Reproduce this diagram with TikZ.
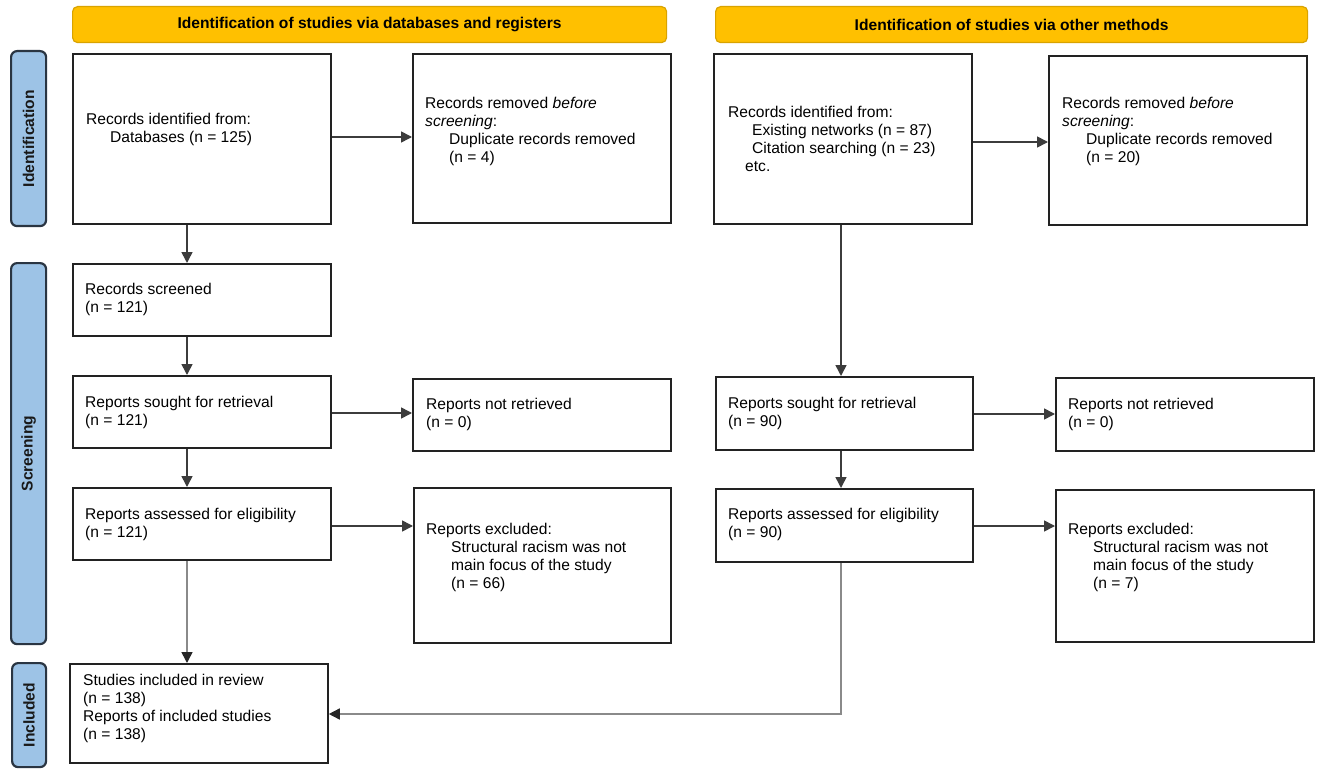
\documentclass[tikz,border=0pt]{standalone}
\usepackage{fontspec}
\setmainfont{Liberation Sans}
\usetikzlibrary{arrows.meta,calc}
\definecolor{hdrfill}{HTML}{FFC000}
\definecolor{hdrline}{HTML}{D9A300}
\definecolor{sidefill}{HTML}{9DC3E6}
\definecolor{sideline}{HTML}{2A3542}
\definecolor{boxline}{HTML}{222222}
\definecolor{arrline}{HTML}{3C3C3C}
\definecolor{grayline}{HTML}{8A8A8A}
\begin{document}
\begin{tikzpicture}[x=1pt,y=-1pt,
  bodyfont/.style={font=\fontsize{15.6}{18}\selectfont},
  boxnode/.style={draw=boxline, line width=1.8pt, fill=white, inner sep=0pt, anchor=north west},
  hdr/.style={draw=hdrline, fill=hdrfill, rounded corners=5pt, line width=1.2pt, inner sep=0pt, anchor=north west,
    font=\fontsize{15.6}{18}\selectfont\bfseries},
  side/.style={draw=sideline, fill=sidefill, rounded corners=6pt, line width=2.2pt, inner sep=0pt, anchor=north west},
  sidetext/.style={rotate=90, font=\fontsize{15.6}{18}\selectfont\bfseries, text=black!90},
  txt/.style={anchor=west, align=left, inner sep=0pt, bodyfont},
  arr/.style={draw=arrline, line width=1.6pt, -{Triangle[length=11pt,width=11pt]}},
  garr/.style={draw=grayline, line width=1.6pt, -{Triangle[length=11pt,width=11pt,color=black!85]}}
]
\useasboundingbox (0,0) rectangle (1325,778);
\fill[white] (0,0) rectangle (1325,778);

% headers
\node[hdr, minimum width=594pt, minimum height=36pt] (hL) at (72,6) {Identification of studies via databases and registers};
\node[hdr, minimum width=592pt, minimum height=36pt] (hR) at (715,6) {Identification of studies via other methods};

% side bars
\node[side, minimum width=35pt, minimum height=175pt] (sI) at (10,50) {};
\node[sidetext] (sIt) at (sI.center) {Identification};
\node[side, minimum width=35pt, minimum height=381pt] (sS) at (10,262) {};
\node[sidetext] (sSt) at (sS.center) {Screening};
\node[side, minimum width=34pt, minimum height=104pt] (sN) at (11,662) {};
\node[sidetext] (sNt) at (sN.center) {Included};

% left column boxes
\node[boxnode, minimum width=258pt, minimum height=170pt] (A1) at (72,53) {};
\node[boxnode, minimum width=258pt, minimum height=169pt] (A2) at (412,53) {};
\node[boxnode, minimum width=258pt, minimum height=72pt] (B1) at (72,263) {};
\node[boxnode, minimum width=258pt, minimum height=72pt] (C1) at (72,375) {};
\node[boxnode, minimum width=258pt, minimum height=72pt] (C2) at (412,378) {};
\node[boxnode, minimum width=258pt, minimum height=72pt] (D1) at (72,487) {};
\node[boxnode, minimum width=257pt, minimum height=155pt] (D2) at (413,487) {};
\node[boxnode, minimum width=258pt, minimum height=99pt] (E1) at (69,663) {};

% right column boxes
\node[boxnode, minimum width=258pt, minimum height=170pt] (F1) at (713,53) {};
\node[boxnode, minimum width=258pt, minimum height=169pt] (F2) at (1048,55) {};
\node[boxnode, minimum width=257pt, minimum height=73pt] (G1) at (715,376) {};
\node[boxnode, minimum width=258pt, minimum height=73pt] (G2) at (1055,377) {};
\node[boxnode, minimum width=257pt, minimum height=73pt] (H1) at (715,488) {};
\node[boxnode, minimum width=258pt, minimum height=152pt] (H2) at (1055,489) {};

% texts
\node[txt] (tA1) at (86,129.5) {Records identified from:\\\hspace*{24pt}Databases (n = 125)};
\node[txt] (tA2) at (425,131) {Records removed \textit{before}\\\textit{screening}:\\\hspace*{24pt}Duplicate records removed\\\hspace*{24pt}(n = 4)};
\node[txt] (tB1) at (85,299.5) {Records screened\\(n = 121)};
\node[txt] (tC1) at (85,412.5) {Reports sought for retrieval\\(n = 121)};
\node[txt] (tC2) at (426,414.5) {Reports not retrieved\\(n = 0)};
\node[txt] (tD1) at (85,524.5) {Reports assessed for eligibility\\(n = 121)};
\node[txt] (tD2) at (426,557) {Reports excluded:\\\hspace*{25pt}Structural racism was not\\\hspace*{25pt}main focus of the study\\\hspace*{25pt}(n = 66)};
\node[txt] (tE1) at (83,708) {Studies included in review\\(n = 138)\\Reports of included studies\\(n = 138)};
\node[txt] (tF1) at (728,139) {Records identified from:\\\hspace*{24pt}Existing networks (n = 87)\\\hspace*{24pt}Citation searching (n = 23)\\\hspace*{17pt}etc.};
\node[txt] (tF2) at (1062,131.5) {Records removed \textit{before}\\\textit{screening}:\\\hspace*{24pt}Duplicate records removed\\\hspace*{24pt}(n = 20)};
\node[txt] (tG1) at (728,413.5) {Reports sought for retrieval\\(n = 90)};
\node[txt] (tG2) at (1068,414.5) {Reports not retrieved\\(n = 0)};
\node[txt] (tH1) at (728,524.5) {Reports assessed for eligibility\\(n = 90)};
\node[txt] (tH2) at (1068,557) {Reports excluded:\\\hspace*{25pt}Structural racism was not\\\hspace*{25pt}main focus of the study\\\hspace*{25pt}(n = 7)};

% helper coordinates
\coordinate (xl) at (187,0);
\coordinate (xr) at (841,0);
\coordinate (yA) at (0,137);
\coordinate (yF) at (0,142);
\coordinate (yC) at (0,413);
\coordinate (yG) at (0,414);
\coordinate (yD) at (0,526);
\coordinate (yH) at (0,526);
\coordinate (yE) at (0,714);

% connectors
\draw[arr] (A1.east |- yA) -- (A2.west |- yA);
\draw[arr] (F1.east |- yF) -- (F2.west |- yF);
\draw[arr] (C1.east |- yC) -- (C2.west |- yC);
\draw[arr] (G1.east |- yG) -- (G2.west |- yG);
\draw[arr] (D1.east |- yD) -- (D2.west |- yD);
\draw[arr] (H1.east |- yH) -- (H2.west |- yH);

\draw[arr] (A1.south -| xl) -- (B1.north -| xl);
\draw[arr] (B1.south -| xl) -- (C1.north -| xl);
\draw[arr] (C1.south -| xl) -- (D1.north -| xl);
\draw[garr] (D1.south -| xl) -- (E1.north -| xl);

\draw[arr] (F1.south -| xr) -- (G1.north -| xr);
\draw[arr] (G1.south -| xr) -- (H1.north -| xr);
\draw[garr] (H1.south -| xr) |- (E1.east |- yE);
\end{tikzpicture}
\end{document}
